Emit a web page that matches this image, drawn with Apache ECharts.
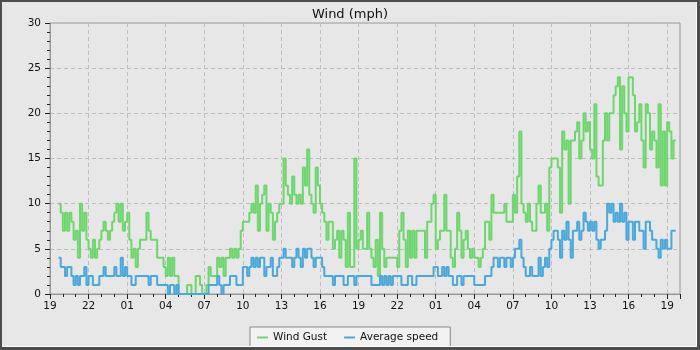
<!DOCTYPE html>
<html><head><meta charset="utf-8">
<script src="https://cdn.jsdelivr.net/npm/echarts@6/dist/echarts.min.js"></script>
<style>html,body{margin:0;padding:0;background:#e7e7e7}#c{width:700px;height:350px}</style>
</head><body><div id="c"></div>
<script>
// x axis in hours after 19:00 of the first day; samples every 10 minutes from 19:40
const startHour = 40 / 60;
const stepHours = 10 / 60;
const tickLabels = ['19','22','01','04','07','10','13','16','19','22','01','04','07','10','13','16','19'];

const windGust = [
  10,9,
  7,9,7,9,8,6,
  7,4,10,7,9,6,
  5,4,6,4,5,6,
  7,8,7,6,7,8,
  9,10,8,10,7,8,
  9,6,4,5,3,5,
  6,6,6,9,7,6,
  6,6,4,4,4,3,
  2,4,2,4,2,2,
  0,0,0,0,1,1,
  0,0,2,2,1,0,
  0,1,3,2,2,2,
  4,3,4,2,4,4,
  5,4,5,4,5,7,
  8,8,8,9,10,9,
  12,7,10,11,12,7,
  10,9,6,8,9,10,
  10,15,12,11,10,13,
  11,10,11,10,
  14,12,
  16,11,10,9,14,12,
  10,9,8,6,8,8,
  5,6,7,4,7,6,
  3,9,3,3,15,5,
  6,7,5,5,9,5,
  4,3,6,2,9,5,
  3,4,4,4,4,4,
  3,7,9,6,3,7,
  4,7,4,7,7,7,
  7,4,
  8,8,10,11,
  5,6,7,7,11,7,
  7,4,3,5,9,7,
  4,6,7,5,4,5,
  4,4,3,4,5,8,
  8,6,11,9,9,9,
  9,9,10,8,8,8,
  11,9,13,18,10,9,
  8,10,8,7,7,10,
  12,9,9,10,7,14,
  15,15,15,14,9,18,
  16,17,10,17,17,18,
  19,15,17,20,18,19,
  16,15,21,13,12,12,
  17,20,17,20,20,22,
  23,24,16,23,20,18,
  24,24,22,18,19,21,
  17,14,21,20,16,18,
  17,14,21,12,18,12,
  19,18,15,17,17
];

const averageSpeed = [
  4,3,
  3,2,3,3,2,1,
  2,1,2,2,3,1,
  2,2,1,1,1,2,
  2,3,2,2,2,2,
  3,2,2,4,2,3,
  2,2,1,1,2,2,
  2,2,2,2,1,2,
  2,2,1,1,1,1,
  1,0,1,1,0,1,
  0,0,0,0,0,0,
  0,0,0,0,0,0,
  0,0,1,1,1,1,
  2,1,0,1,1,1,
  2,2,2,1,1,1,
  3,3,2,3,4,3,
  4,3,4,4,2,3,
  3,4,2,2,3,4,
  4,5,4,4,4,3,
  4,5,4,3,
  5,4,
  5,5,4,3,4,4,
  4,3,2,2,2,2,
  1,2,2,2,2,1,
  1,2,2,2,1,2,
  2,2,2,2,2,2,
  1,1,1,1,2,1,
  2,1,2,1,2,2,
  2,2,1,1,1,2,
  2,1,1,2,2,2,
  2,2,
  2,2,2,3,
  3,2,2,3,2,3,
  2,2,1,1,2,2,
  1,2,2,2,2,2,
  1,1,1,1,1,2,
  2,2,3,4,4,3,
  4,4,3,4,4,3,
  4,5,5,6,4,3,
  2,2,3,2,2,2,
  4,2,3,4,3,5,
  6,7,7,6,4,7,
  6,8,6,4,7,7,
  8,6,7,9,8,7,
  8,7,8,6,5,6,
  6,7,10,9,10,8,
  9,8,10,8,9,6,
  8,8,6,8,8,7,
  7,5,8,8,7,6,
  6,5,4,6,5,6,
  5,5,7,7,7
];

const times = windGust.map((_, i) => startHour + i * stepHours);
const gustData = times.map((t, i) => [t, windGust[i]]);
const avgData = times.map((t, i) => [t, averageSpeed[i]]);

const FONT = 'DejaVu Sans';
const chart = echarts.init(document.getElementById('c'), null, {renderer: 'canvas'});
chart.setOption({
  backgroundColor: '#e7e7e7',
  animation: false,
  textStyle: {fontFamily: FONT},
  title: {
    text: 'Wind (mph)', left: 'center', top: 3,
    textStyle: {fontSize: 13, fontWeight: 'normal', color: '#111', fontFamily: FONT}
  },
  grid: {left: 50, right: 20, top: 23, bottom: 56, show: true, borderColor: '#999', borderWidth: 1},
  xAxis: {
    type: 'value', min: 0, max: 49, interval: 3,
    axisLine: {show: true, onZero: false, lineStyle: {color: '#999'}},
    axisTick: {show: true, length: 5, lineStyle: {color: '#222'}},
    minorTick: {show: true, splitNumber: 3, length: 3, lineStyle: {color: '#222'}},
    axisLabel: {
      formatter: v => (Number.isInteger(v / 3) ? (tickLabels[v / 3] || '') : ''),
      fontSize: 10.5, color: '#111', margin: 7, fontFamily: FONT
    },
    splitLine: {show: true, lineStyle: {color: '#bdbdbd', type: [4, 3]}},
    minorSplitLine: {show: false}
  },
  yAxis: {
    type: 'value', min: 0, max: 30, interval: 5,
    axisLine: {show: true, lineStyle: {color: '#999'}},
    axisTick: {show: true, length: 5, lineStyle: {color: '#222'}},
    minorTick: {show: true, splitNumber: 5, length: 3, lineStyle: {color: '#222'}},
    axisLabel: {fontSize: 10.5, color: '#111', margin: 9, fontFamily: FONT},
    splitLine: {show: true, lineStyle: {color: '#bdbdbd', type: [4, 3]}}
  },
  legend: {
    left: 250, top: 327, icon: 'rect', itemWidth: 11, itemHeight: 2, itemGap: 17,
    backgroundColor: '#f2f2f2', borderColor: '#888', borderWidth: 1,
    padding: [5, 12, 8, 7],
    textStyle: {fontSize: 10.5, color: '#111', fontFamily: FONT},
    data: ['Wind Gust', 'Average speed']
  },
  series: [
    {
      name: 'Wind Gust', type: 'line', step: 'end', data: gustData,
      showSymbol: false, symbol: 'none',
      lineStyle: {color: '#6fd66f', width: 2}, itemStyle: {color: '#6fd66f'}
    },
    {
      name: 'Average speed', type: 'line', step: 'end', data: avgData,
      showSymbol: false, symbol: 'none',
      lineStyle: {color: '#4aa8da', width: 2}, itemStyle: {color: '#4aa8da'}
    }
  ],
  graphic: [
    {type: 'rect', z: 100, silent: true, shape: {x: 0, y: 0, width: 700, height: 350},
      style: {fill: 'none', stroke: '#4d4d4d', lineWidth: 4}},
    {type: 'polyline', z: 100, silent: true, shape: {points: [[0, 347.5], [700, 347.5]]},
      style: {stroke: '#4d4d4d', lineWidth: 1}},
    {type: 'polyline', z: 100, silent: true, shape: {points: [[697.5, 0], [697.5, 350]]},
      style: {stroke: '#4d4d4d', lineWidth: 1}},
    {type: 'polyline', z: 100, silent: true, shape: {points: [[2, 346.5], [696.5, 346.5], [696.5, 2]]},
      style: {stroke: '#ffffff', lineWidth: 1, fill: 'none'}}
  ]
});
</script>
</body></html>
